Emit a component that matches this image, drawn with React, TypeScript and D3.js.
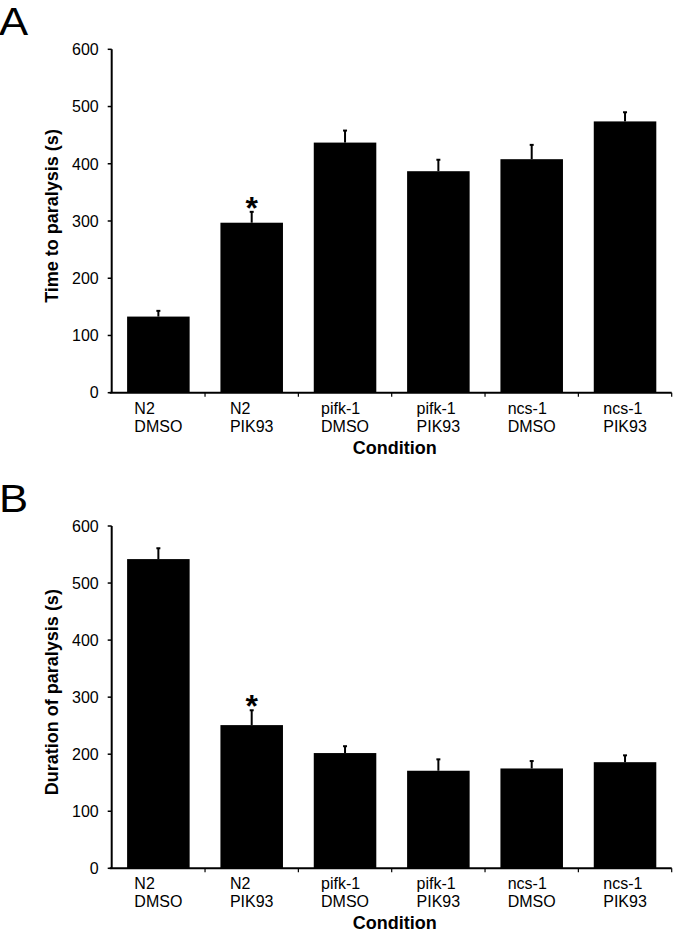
import React, { useEffect, useRef } from 'react';
import * as d3 from 'd3';

const strains = ["N2", "N2", "pifk-1", "pifk-1", "ncs-1", "ncs-1"];
const treatments = ["DMSO", "PIK93", "DMSO", "PIK93", "DMSO", "PIK93"];
const categories = strains.map((s, i) => `${s} ${treatments[i]}`);

// panel A
const timeToParalysis = [133, 297, 437, 387, 408, 474];
const timeToParalysisErr = [10, 19, 21, 20, 25, 16];
// panel B
const durationOfParalysis = [542, 251, 202, 171, 175, 186];
const durationOfParalysisErr = [19, 26, 12, 20, 13, 12];

const significant = [false, true, false, false, false, false];
const yTicks = [0, 100, 200, 300, 400, 500, 600];

const FONT = "'Liberation Sans', Arial, Helvetica, sans-serif";

interface Panel {
  letter: string;
  title: string;
  values: number[];
  errors: number[];
  top: number;
  bottom: number;
}

const panels: Panel[] = [
  { letter: "A", title: "Time to paralysis (s)", values: timeToParalysis, errors: timeToParalysisErr, top: 49.3, bottom: 392.7 },
  { letter: "B", title: "Duration of paralysis (s)", values: durationOfParalysis, errors: durationOfParalysisErr, top: 526, bottom: 868.3 },
];

const App: React.FC = () => {
  const ref = useRef<SVGSVGElement | null>(null);

  useEffect(() => {
    if (!ref.current) return;
    const svg = d3.select(ref.current);
    svg.selectAll("*").remove();

    const left = 111.7;
    const right = 671.7;

    const x = d3.scaleBand<string>()
      .domain(categories)
      .range([left, right])
      .paddingInner(0.33)
      .paddingOuter(0.165);

    panels.forEach(p => {
      const g = svg.append("g").attr("font-family", FONT);

      const y = d3.scaleLinear().domain([0, 600]).range([p.bottom, p.top]);

      // panel letter
      g.append("text")
        .attr("transform", `translate(-1,${p.top - 14}) scale(1.15,1)`)
        .attr("font-size", 38)
        .attr("fill", "#000")
        .text(p.letter);

      // bars
      g.selectAll("rect.bar")
        .data(p.values)
        .enter()
        .append("rect")
        .attr("class", "bar")
        .attr("x", (_, i) => x(categories[i])!)
        .attr("width", x.bandwidth())
        .attr("y", d => y(d))
        .attr("height", d => y(0) - y(d))
        .attr("fill", "#000");

      // error bars
      p.values.forEach((v, i) => {
        const cx = x(categories[i])! + x.bandwidth() / 2;
        g.append("line")
          .attr("x1", cx).attr("x2", cx)
          .attr("y1", y(v)).attr("y2", y(v + p.errors[i]))
          .attr("stroke", "#000").attr("stroke-width", 2);
        g.append("line")
          .attr("x1", cx - 2).attr("x2", cx + 2)
          .attr("y1", y(v + p.errors[i])).attr("y2", y(v + p.errors[i]))
          .attr("stroke", "#000").attr("stroke-width", 2);
        if (significant[i]) {
          g.append("text")
            .attr("x", cx)
            .attr("y", y(v + p.errors[i]) + 7)
            .attr("text-anchor", "middle")
            .attr("font-size", 32)
            .attr("font-weight", "bold")
            .text("*");
        }
      });

      // y axis
      g.append("line")
        .attr("x1", left).attr("x2", left)
        .attr("y1", y(600)).attr("y2", y(0))
        .attr("stroke", "#000").attr("stroke-width", 2);
      yTicks.forEach(t => {
        g.append("line")
          .attr("x1", left - 4).attr("x2", left)
          .attr("y1", y(t)).attr("y2", y(t))
          .attr("stroke", "#000").attr("stroke-width", 1.5);
        g.append("text")
          .attr("x", left - 13)
          .attr("y", y(t))
          .attr("dy", "0.36em")
          .attr("text-anchor", "end")
          .attr("font-size", 16)
          .text(t);
      });

      // x axis
      g.append("line")
        .attr("x1", left - 2).attr("x2", right)
        .attr("y1", y(0)).attr("y2", y(0))
        .attr("stroke", "#000").attr("stroke-width", 2);
      categories.forEach((c, i) => {
        const bx = x(c)! + x.bandwidth() + x.step() * x.paddingInner() / 2;
        const tx = i === categories.length - 1 ? right : bx;
        g.append("line")
          .attr("x1", tx).attr("x2", tx)
          .attr("y1", y(0)).attr("y2", y(0) + 4)
          .attr("stroke", "#000").attr("stroke-width", 1.2);

        const cx = x(c)! + x.bandwidth() / 2;
        const lbl = g.append("text")
          .attr("font-size", 16)
          .attr("y", y(0) + 21);
        const t1 = lbl.append("tspan").text(strains[i]);
        const t2 = lbl.append("tspan").attr("dy", 18).text(treatments[i]);
        const w = Math.max(
          (t1.node() as SVGTextContentElement).getComputedTextLength(),
          (t2.node() as SVGTextContentElement).getComputedTextLength()
        );
        t1.attr("x", cx - w / 2);
        t2.attr("x", cx - w / 2);
      });

      // axis titles
      g.append("text")
        .attr("x", (left + right) / 2 + 3)
        .attr("y", y(0) + 61)
        .attr("text-anchor", "middle")
        .attr("font-size", 18)
        .attr("font-weight", "bold")
        .text("Condition");

      g.append("text")
        .attr("transform", `translate(58,${(p.top + p.bottom) / 2 - 5}) rotate(-90)`)
        .attr("text-anchor", "middle")
        .attr("font-size", 18)
        .attr("font-weight", "bold")
        .text(p.title);
    });
  }, []);

  return (
    <svg
      ref={ref}
      width={675}
      height={932}
      style={{ position: "absolute", left: 0, top: 0, background: "#fff" }}
    />
  );
};

export default App;
